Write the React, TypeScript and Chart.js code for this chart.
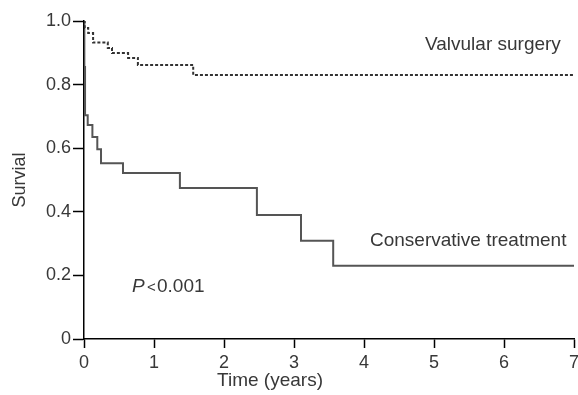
import React, { useEffect, useRef } from "react";
import { Chart, registerables } from "chart.js";

Chart.register(...registerables);

// ---- Data ----
const valvularTimes = [0, 0.01, 0.06, 0.13, 0.34, 0.4, 0.63, 0.77, 1.56, 7];
const valvularSurvival = [1.0, 0.978, 0.962, 0.932, 0.915, 0.899, 0.884, 0.862, 0.83, 0.83];

const conservativeTimes = [0, 0.005, 0.015, 0.053, 0.12, 0.19, 0.243, 0.557, 1.37, 2.47, 3.1, 3.56, 7];
const conservativeSurvival = [1.0, 0.855, 0.704, 0.673, 0.635, 0.597, 0.553, 0.522, 0.475, 0.39, 0.309, 0.23, 0.23];

const xTickValues = [0, 1, 2, 3, 4, 5, 6, 7];
const yTickValues = [0, 0.2, 0.4, 0.6, 0.8, 1.0];
const yTickLabels = ["0", "0.2", "0.4", "0.6", "0.8", "1.0"];

const xTitle = "Time (years)";
const yTitle = "Survial";
const labelValvular = "Valvular surgery";
const labelConservative = "Conservative treatment";
const pLetter = "P";
const pRest = "0.001";
const pSign = "<";

const FONT = '"Liberation Sans", Arial, sans-serif';
const TEXT = "#383838";

const annotations = {
  id: "annotations",
  afterDraw(chart: any) {
    const ctx = chart.ctx as CanvasRenderingContext2D;
    ctx.save();
    ctx.fillStyle = TEXT;
    ctx.textBaseline = "alphabetic";
    ctx.textAlign = "left";
    ctx.font = `19px ${FONT}`;
    ctx.fillText(labelValvular, 425, 50);
    ctx.fillText(labelConservative, 370, 246);
    ctx.font = `italic 19px ${FONT}`;
    ctx.fillText(pLetter, 132, 292);
    ctx.font = `15px ${FONT}`;
    ctx.fillText(pSign, 147, 292);
    ctx.font = `19px ${FONT}`;
    ctx.fillText(pRest, 157, 292);
    ctx.textAlign = "center";
    ctx.fillText(xTitle, 270, 386);
    ctx.restore();
  },
};

export default function App() {
  const ref = useRef<HTMLCanvasElement | null>(null);

  useEffect(() => {
    document.body.style.margin = "0";
    if (!ref.current) return;
    const chart = new Chart(ref.current, {
      type: "line",
      data: {
        datasets: [
          {
            label: labelValvular,
            data: valvularTimes.map((t, i) => ({ x: t, y: valvularSurvival[i] })),
            stepped: "before",
            borderColor: "#333",
            borderWidth: 2,
            borderDash: [3, 2],
            pointRadius: 0,
            fill: false,
          },
          {
            label: labelConservative,
            data: conservativeTimes.map((t, i) => ({ x: t, y: conservativeSurvival[i] })),
            stepped: "before",
            borderColor: "#555",
            borderWidth: 2,
            pointRadius: 0,
            fill: false,
          },
        ],
      },
      options: {
        animation: false,
        responsive: true,
        maintainAspectRatio: false,
        layout: { padding: { top: 21, right: 4, left: 0, bottom: 0 } },
        plugins: { legend: { display: false }, tooltip: { enabled: false } },
        scales: {
          x: {
            type: "linear",
            min: 0,
            max: 7,
            afterBuildTicks: (s: any) => {
              s.ticks = xTickValues.map((v) => ({ value: v }));
            },
            afterFit: (s: any) => {
              s.height = 56;
              s.paddingLeft = 0;
              s.paddingRight = 0;
            },
            ticks: {
              color: TEXT,
              font: { family: FONT, size: 18 },
              padding: 4,
              maxRotation: 0,
              callback: (v: any) => String(v),
            },
            grid: {
              drawOnChartArea: false,
              drawTicks: true,
              tickLength: 9,
              tickWidth: 1.5,
              tickColor: "#000",
            },
            border: { display: true, color: "#000", width: 1.5 },
          },
          y: {
            type: "linear",
            min: 0,
            max: 1,
            afterBuildTicks: (s: any) => {
              s.ticks = yTickValues.map((v) => ({ value: v }));
            },
            afterFit: (s: any) => {
              s.width = 84;
            },
            ticks: {
              color: TEXT,
              font: { family: FONT, size: 18 },
              padding: 2,
              callback: (v: any) => {
                const i = yTickValues.findIndex((t) => Math.abs(t - v) < 1e-6);
                return i >= 0 ? yTickLabels[i] : "";
              },
            },
            grid: {
              drawOnChartArea: false,
              drawTicks: true,
              tickLength: 11,
              tickWidth: 1.5,
              tickColor: "#000",
            },
            border: { display: true, color: "#000", width: 1.5 },
            title: {
              display: true,
              text: yTitle,
              color: TEXT,
              font: { family: FONT, size: 18 },
              padding: { top: 9, bottom: 0 },
            },
          },
        },
      },
      plugins: [annotations],
    });
    return () => chart.destroy();
  }, []);

  return (
    <div style={{ position: "relative", width: 578, height: 395 }}>
      <canvas ref={ref} />
    </div>
  );
}
